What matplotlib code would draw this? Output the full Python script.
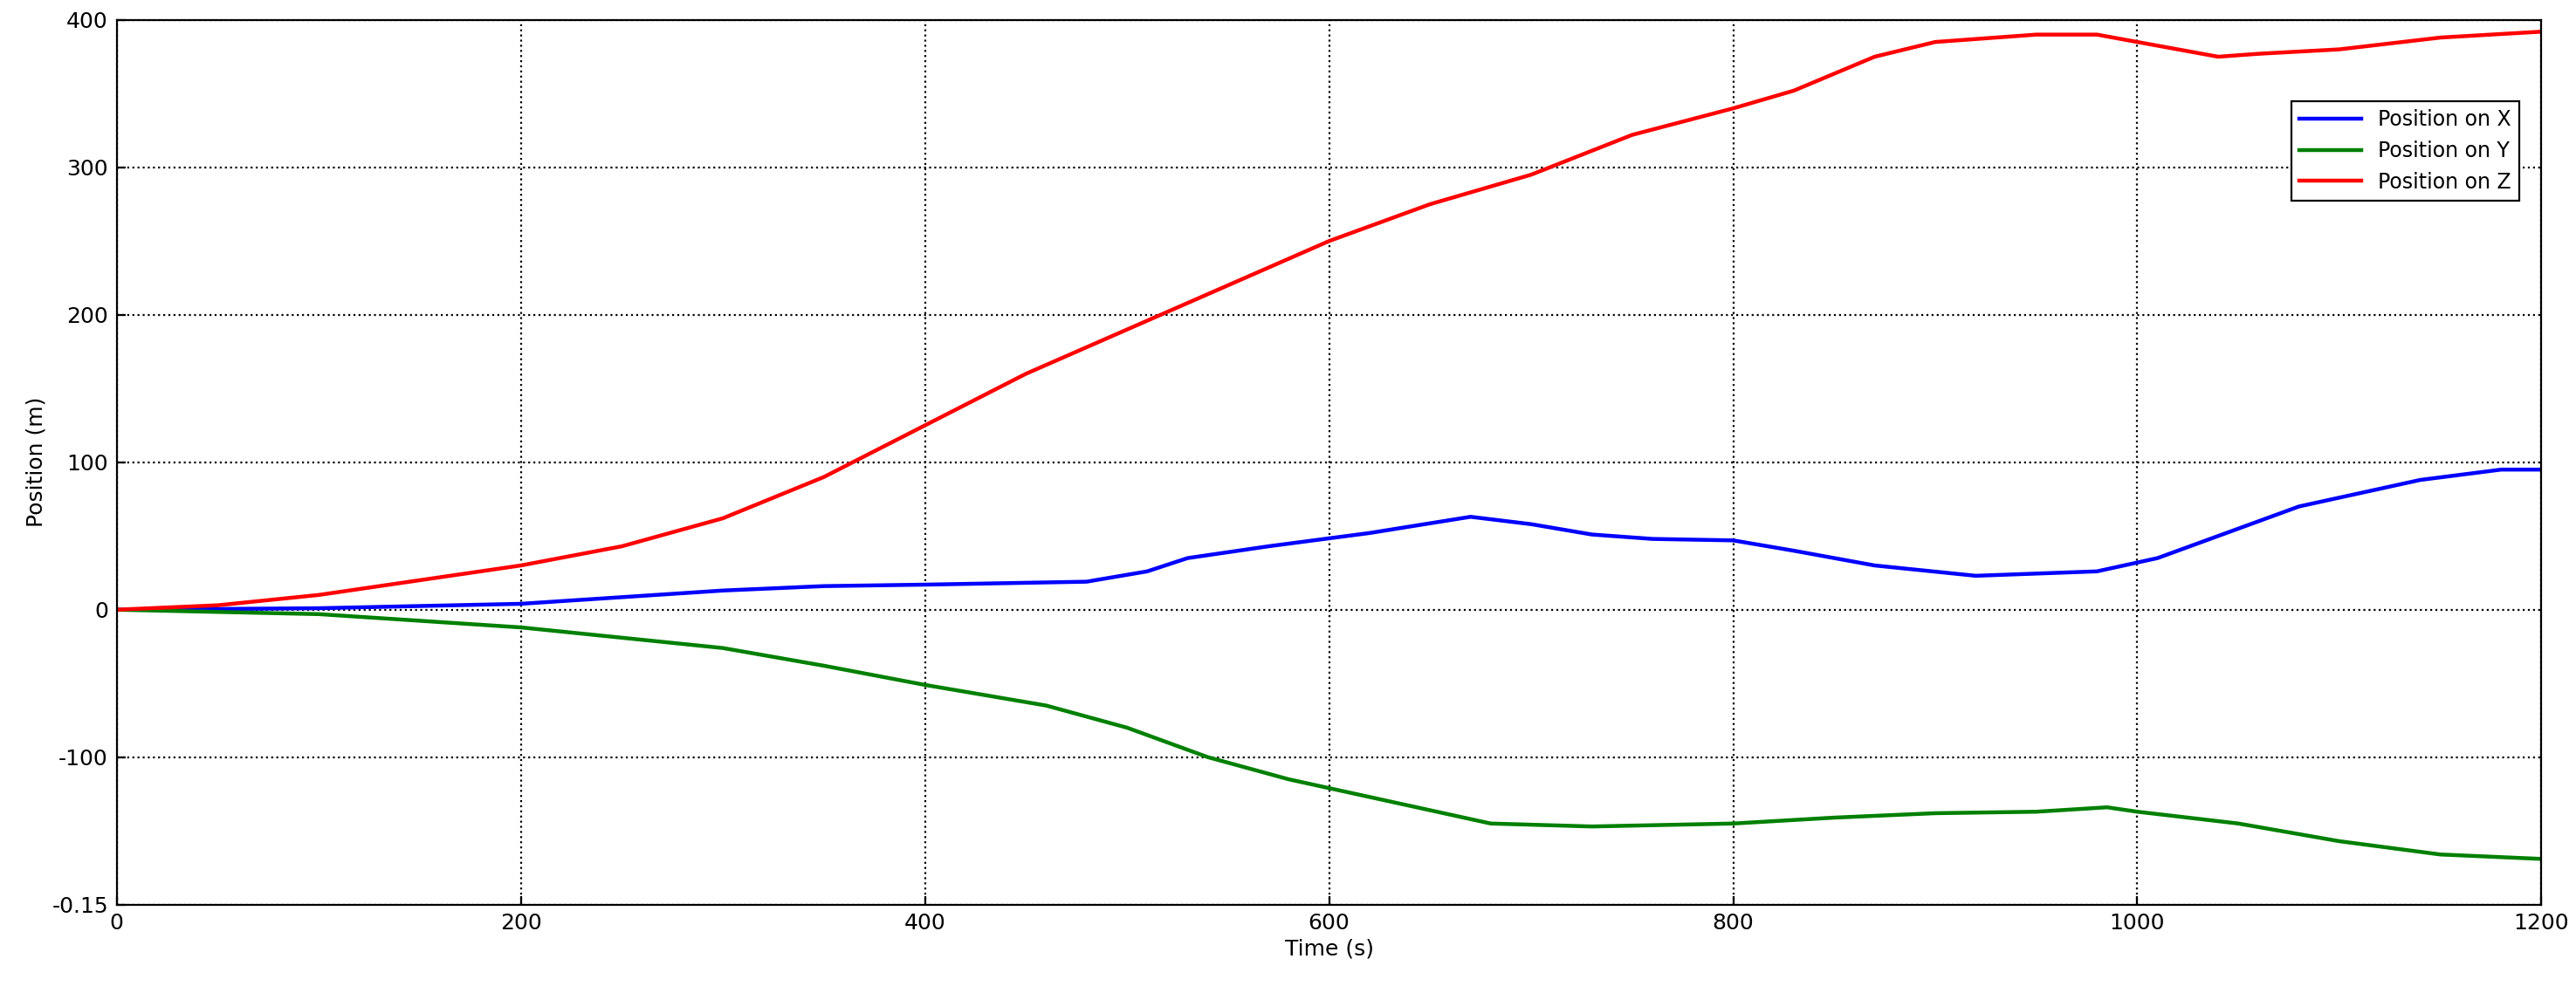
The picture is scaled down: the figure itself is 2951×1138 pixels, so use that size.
import matplotlib
matplotlib.use("Agg")
import matplotlib.pyplot as plt

t_z = [0,50,100,150,200,250,300,350,400,450,500,550,600,620,650,700,750,800,830,870,900,950,980,1000,1020,1040,1060,1100,1150,1200]
z = [0,3,10,20,30,43,62,90,125,160,190,220,250,260,275,295,322,340,352,375,385,390,390,385,380,375,377,380,388,392]
t_x = [0,100,200,300,350,400,480,510,530,570,620,670,700,730,760,800,830,870,920,980,1010,1050,1080,1140,1180,1200]
x = [0,1,4,13,16,17,19,26,35,43,52,63,58,51,48,47,40,30,23,26,35,55,70,88,95,95]
t_y = [0,100,200,300,350,400,460,500,540,580,620,680,730,800,850,900,950,985,1000,1050,1100,1150,1200]
y = [0,-3,-12,-26,-38,-51,-65,-80,-100,-115,-127,-145,-147,-145,-141,-138,-137,-134,-137,-145,-157,-166,-169]
yticks = [-200,-100,0,100,200,300,400]
ytick_labels = ["-0.15","-100","0","100","200","300","400"]
xticks = [0,200,400,600,800,1000,1200]

plt.rcParams['font.family'] = ['DejaVu Sans']
fig = plt.figure(figsize=(14.755, 5.69), dpi=200)
ax = fig.add_axes([0.0453, 0.089, 0.9413, 0.891])
ax.plot(t_x, x, color='#0000ff', lw=1.6, label='Position on X')
ax.plot(t_y, y, color='#008000', lw=1.6, label='Position on Y')
ax.plot(t_z, z, color='#ff0000', lw=1.6, label='Position on Z')
ax.set_xlim(0, 1200)
ax.set_ylim(-200, 400)
ax.set_xticks(xticks)
ax.set_yticks(yticks)
ax.set_yticklabels(ytick_labels)
ax.grid(True, color='black', linestyle=':', linewidth=0.8)
ax.tick_params(direction='in', labelsize=9)
ax.set_xlabel('Time (s)', fontsize=9, labelpad=2)
ax.set_ylabel('Position (m)', fontsize=9, labelpad=2)
leg = ax.legend(loc='upper right', bbox_to_anchor=(0.995, 0.92), fontsize=8.5,
                fancybox=False, framealpha=1, edgecolor='black', handlelength=3)
leg.get_frame().set_linewidth(0.8)
fig.savefig('out.png', dpi=200)
